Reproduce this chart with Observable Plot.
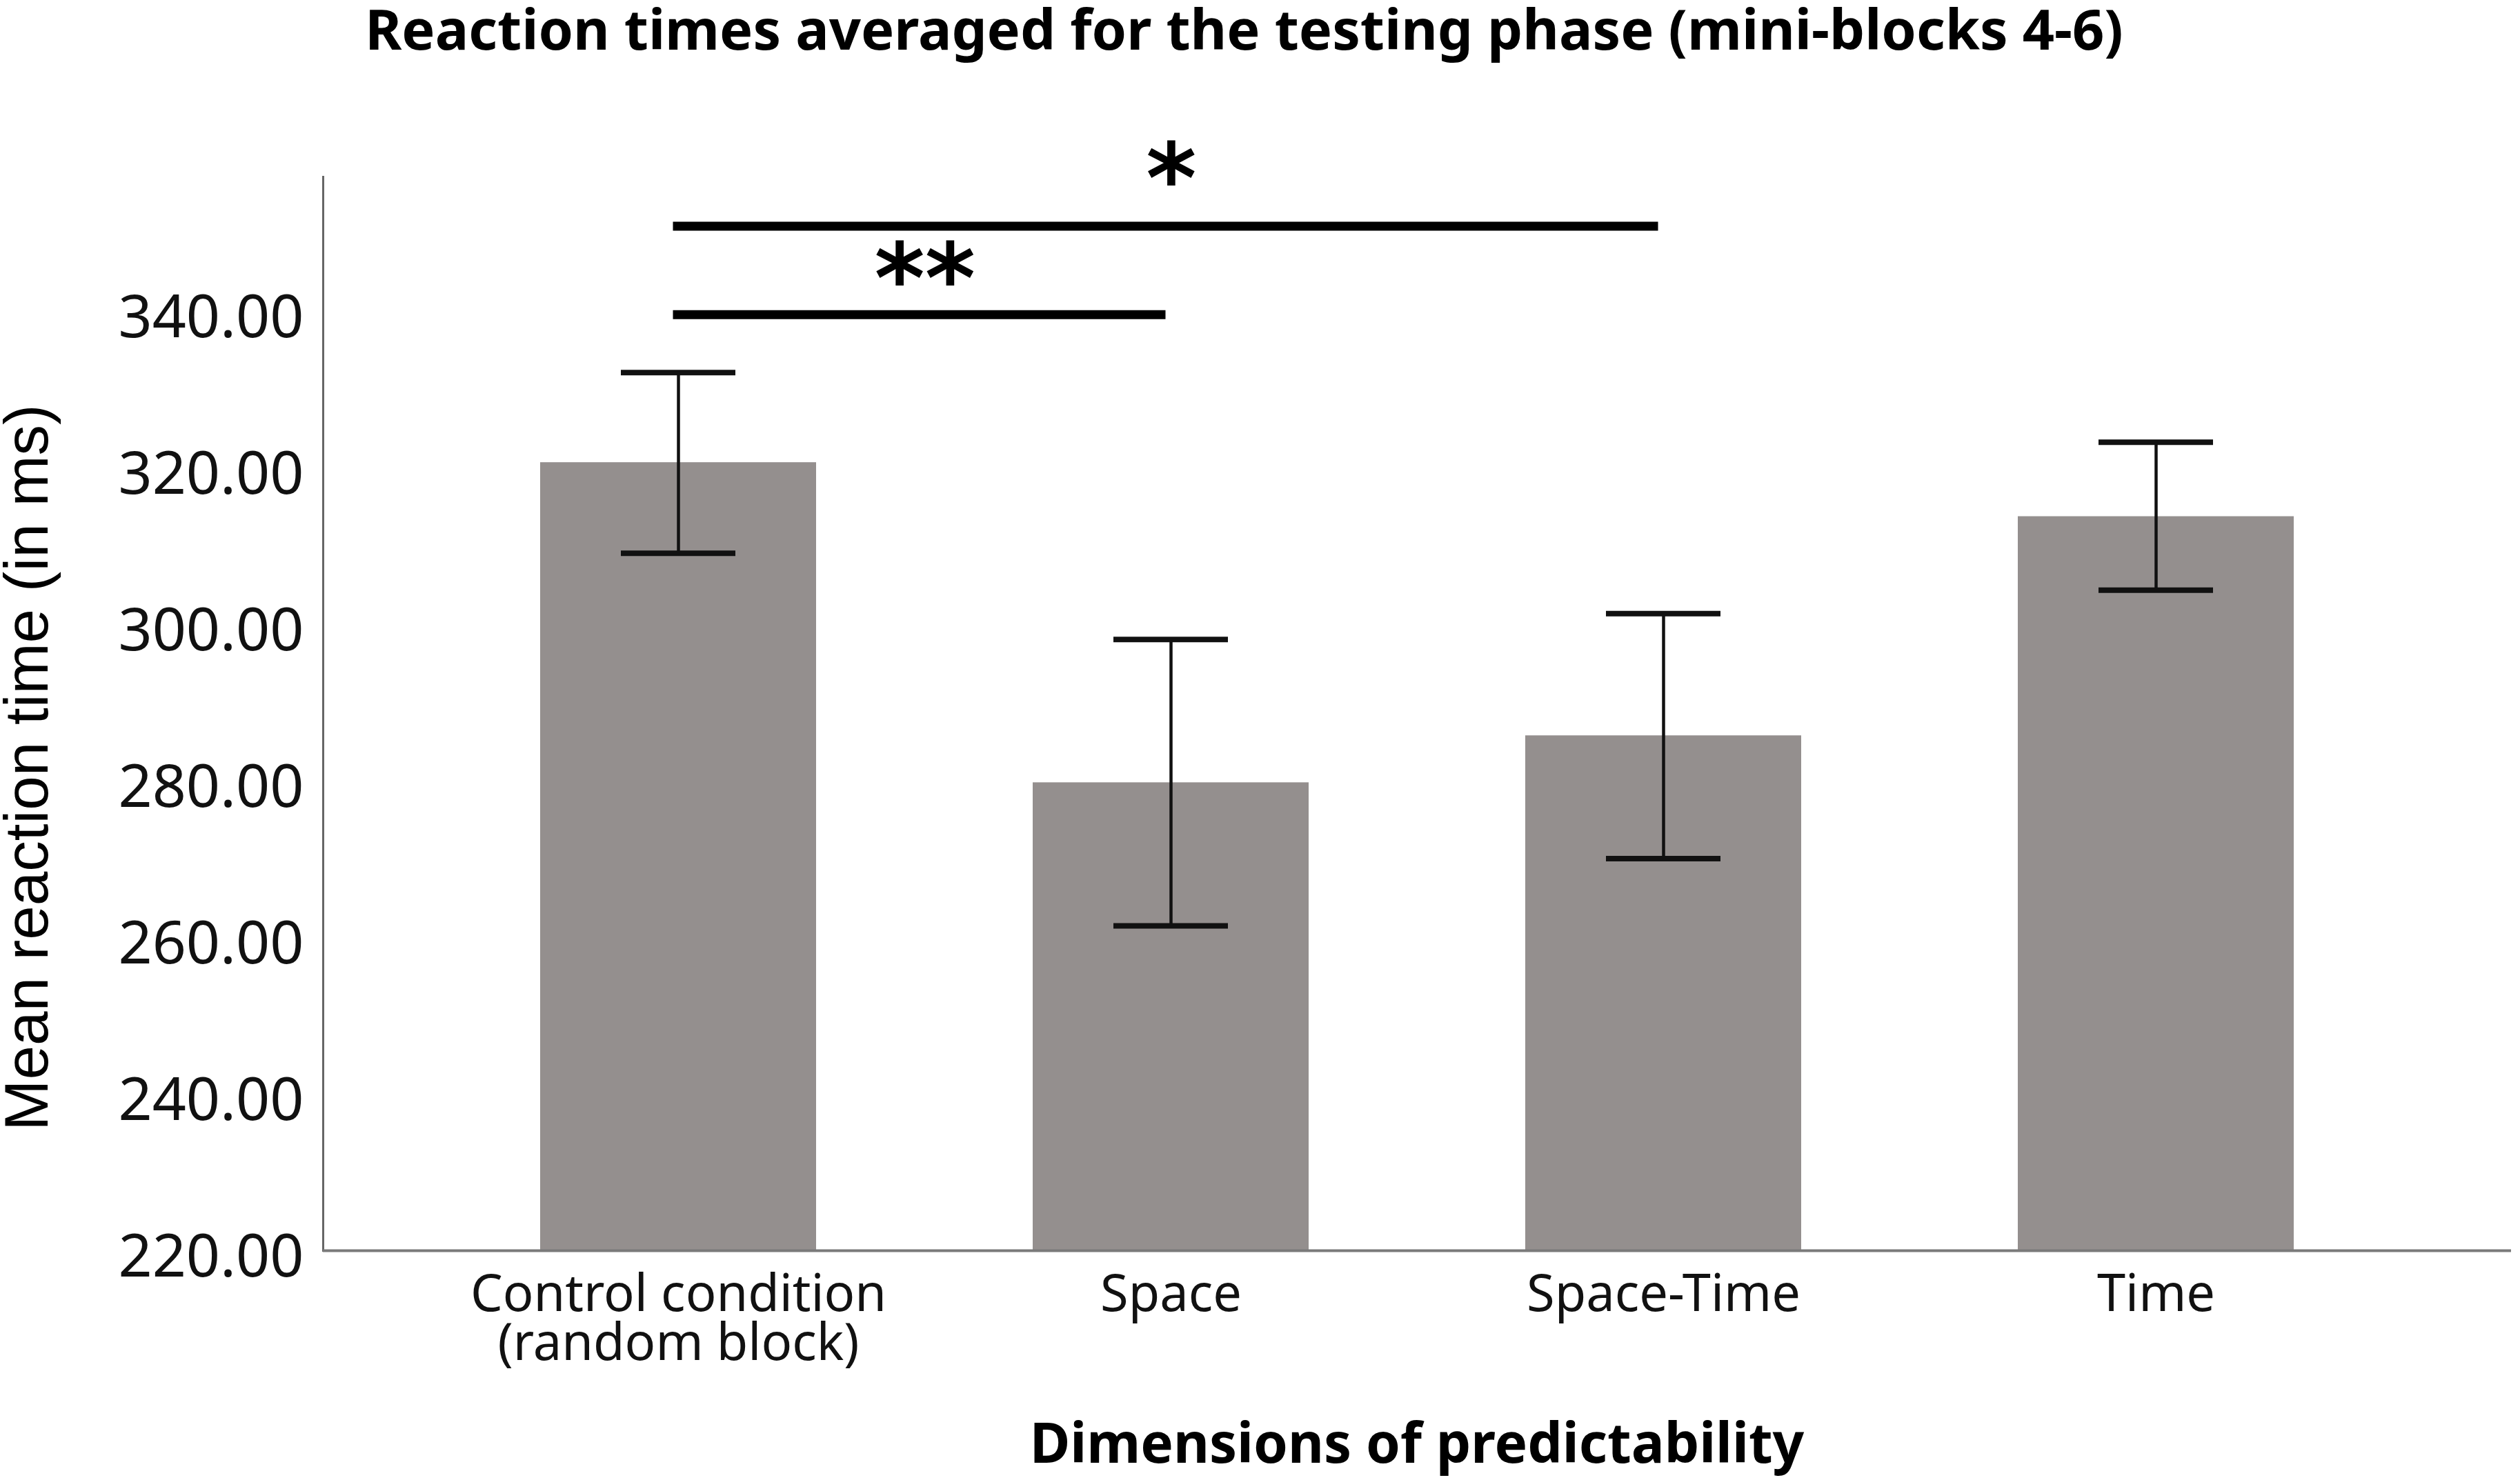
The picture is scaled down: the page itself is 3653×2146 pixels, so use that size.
<!DOCTYPE html>
<html>
<head>
<meta charset="utf-8">
<script src="https://cdn.jsdelivr.net/npm/d3@7"></script>
<script src="https://cdn.jsdelivr.net/npm/@observablehq/plot@0.6"></script>
<style>
  html, body { margin: 0; padding: 0; background: #fff; }
  body { width: 3653px; height: 2146px; overflow: hidden; }
  #title { font-family: "Noto Sans"; font-weight: bold; font-size: 81px; line-height: 82px; height: 100px; text-align: center; padding-right: 46px; color: #000; white-space: nowrap; }
  #xtitle { font-family: "Noto Sans"; font-weight: bold; font-size: 80px; line-height: 78px; text-align: center; padding-left: 455px; color: #000; white-space: nowrap; }
  #chart svg { display: block; }
</style>
</head>
<body>
<div id="title">Reaction times averaged for the testing phase (mini-blocks 4-6)</div>
<div id="chart"></div>
<div id="xtitle">Dimensions of predictability</div>
<script>
// ---- data ----
const categories = ["Control", "Space", "Space-Time", "Time"];
const categoryLabels = ["Control condition\n(random block)", "Space", "Space-Time", "Time"];
const meanRT = [320.7, 279.8, 285.8, 313.8];
const errLow = [309.1, 261.5, 270.1, 304.4];
const errHigh = [332.2, 298.1, 301.4, 323.3];
const yTicks = [220, 240, 260, 280, 300, 320, 340];
const yDomain = [220, 357.2];
const yTitle = "Mean reaction time (in ms)";
const sigFrom = ["Control", "Control"];
const sigTo = ["Space", "Space-Time"];
const sigLevel = [339.6, 350.9];
const sigLabel = ["**", "*"];
const sigLabelLevel = [343.8, 356.6];

// ---- layout ----
const W = 3653, H = 1951;
const mL = 468, mR = 13, mT = 156, mB = 238;
const pad = 0.44;
const step = (W - mL - mR) / (categories.length - pad + 2 * pad);

const rows = categories.map((c, i) => ({cat: c, mean: meanRT[i], lo: errLow[i], hi: errHigh[i]}));
const sig = sigFrom.map((f, i) => ({from: f, to: sigTo[i], y: sigLevel[i], label: sigLabel[i], ly: sigLabelLevel[i],
  span: categories.indexOf(sigTo[i]) - categories.indexOf(f)}));

const labelOf = new Map(categories.map((c, i) => [c, categoryLabels[i]]));

const marks = [
  Plot.barY(rows, {x: "cat", y1: yDomain[0], y2: "mean", fill: "#948f8e"}),
  Plot.ruleX(rows, {x: "cat", y1: "lo", y2: "hi", stroke: "#111", strokeWidth: 4.5}),
  Plot.tickY(rows, {x: "cat", y: "hi", stroke: "#111", strokeWidth: 8, insetLeft: 117, insetRight: 117}),
  Plot.tickY(rows, {x: "cat", y: "lo", stroke: "#111", strokeWidth: 8, insetLeft: 117, insetRight: 117}),
  Plot.frame({anchor: "left", stroke: "#666", strokeWidth: 3}),
  Plot.ruleY([yDomain[0]], {stroke: "#7a7a7a", strokeWidth: 4}),
  Plot.link(sig, {x1: "from", x2: "to", y1: "y", y2: "y", stroke: "#000", strokeWidth: 13, dx: -8}),
  ...sig.map(s => Plot.text([s], {x: "from", y: "ly", text: "label", dx: s.span * step / 2,
    fontSize: 140, fontFamily: "DejaVu Sans", fontWeight: "bold", lineAnchor: "middle", fill: "#000"})),
  Plot.axisY({ticks: yTicks, tickSize: 0, tickPadding: 28, fontSize: 86, tickFormat: d3.format(".2f"),
    label: null, dy: 10, fill: "#111"}),
  Plot.axisX({tickSize: 0, tickPadding: 37, fontSize: 74, tickFormat: d => labelOf.get(d),
    label: null, lineHeight: 0.96, fill: "#111"}),
  Plot.text([yTitle], {frameAnchor: "left", rotate: -90, dx: -463, dy: 78, lineAnchor: "top", textAnchor: "middle",
    text: d => d, fontSize: 89, fontFamily: "Liberation Sans", fill: "#000"})
];

const chart = Plot.plot({
  width: W, height: H,
  marginLeft: mL, marginRight: mR, marginTop: mT, marginBottom: mB,
  style: {fontFamily: "Noto Sans", background: "#fff", color: "#111"},
  x: {domain: categories, padding: pad},
  y: {domain: yDomain},
  marks
});
document.getElementById("chart").appendChild(chart);
</script>
</body>
</html>
